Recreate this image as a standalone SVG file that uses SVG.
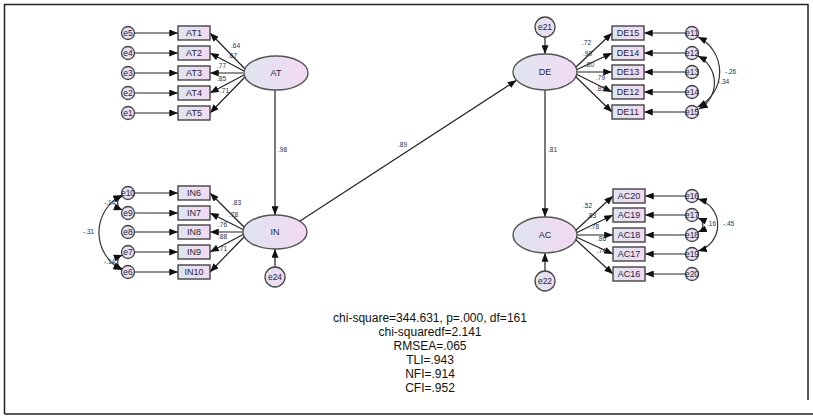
<svg xmlns="http://www.w3.org/2000/svg" width="813" height="416" viewBox="0 0 813 416">
<defs>
<linearGradient id="g" x1="0" y1="0" x2="1" y2="0">
<stop offset="0" stop-color="#dfe5ef"/>
<stop offset="1" stop-color="#f2d9f2"/>
</linearGradient>
<marker id="ah" viewBox="0 0 10 8" refX="10" refY="4" markerWidth="9" markerHeight="7" orient="auto-start-reverse" markerUnits="userSpaceOnUse">
<path d="M0,0 L10,4 L0,8 z" fill="#111"/>
</marker>
</defs>
<style>
.box{fill:url(#g);stroke:#444;stroke-width:1.4}
.lat{fill:url(#g);stroke:#555;stroke-width:1.4}
.err{fill:url(#g);stroke:#444;stroke-width:1.3}
.t{font-family:"Liberation Sans",Arial,sans-serif;font-size:9px;fill:#1c2640;text-anchor:middle;dominant-baseline:central}
.te{font-family:"Liberation Sans",Arial,sans-serif;font-size:8.5px;fill:#1c2640;text-anchor:middle;dominant-baseline:central}
.lb{font-family:"Liberation Sans",Arial,sans-serif;font-size:6.5px;fill:#22304f}
.ln{stroke:#222;stroke-width:1.2;fill:none;marker-end:url(#ah)}
.cv{stroke:#333;stroke-width:1.2;fill:none;marker-end:url(#ah);marker-start:url(#ah)}
.fit{font-family:"Liberation Sans",Arial,sans-serif;font-size:12px;fill:#111;text-anchor:middle}
.frame{stroke:#222;stroke-width:1.5;fill:none}
</style>
<g id="frame">
<path class="frame" d="M4.5,414 L4.5,4.5 L808,4.5 L808,400"/>
<path class="frame" d="M4.5,414 L813,414"/>
</g>
<g id="connectors">
<!-- AT errors -->
<line class="ln" x1="134.5" y1="33" x2="178" y2="33"/>
<line class="ln" x1="134.5" y1="53" x2="178" y2="53"/>
<line class="ln" x1="134.5" y1="73" x2="178" y2="73"/>
<line class="ln" x1="134.5" y1="93" x2="178" y2="93"/>
<line class="ln" x1="134.5" y1="113" x2="178" y2="113"/>
<!-- AT loadings -->
<line class="ln" x1="245" y1="69" x2="210" y2="33"/>
<line class="ln" x1="244" y1="71" x2="210" y2="53"/>
<line class="ln" x1="243" y1="73" x2="210" y2="73"/>
<line class="ln" x1="244" y1="75" x2="210" y2="93"/>
<line class="ln" x1="245" y1="77" x2="210" y2="113"/>
<!-- IN errors -->
<line class="ln" x1="134.5" y1="193" x2="178" y2="193"/>
<line class="ln" x1="134.5" y1="213" x2="178" y2="213"/>
<line class="ln" x1="134.5" y1="232" x2="178" y2="232"/>
<line class="ln" x1="134.5" y1="252" x2="178" y2="252"/>
<line class="ln" x1="134.5" y1="272" x2="178" y2="272"/>
<!-- IN loadings -->
<line class="ln" x1="245" y1="228" x2="210" y2="193"/>
<line class="ln" x1="244" y1="230" x2="210" y2="213"/>
<line class="ln" x1="243" y1="232" x2="210" y2="232"/>
<line class="ln" x1="244" y1="234" x2="210" y2="252"/>
<line class="ln" x1="245" y1="236" x2="210" y2="272"/>
<!-- DE errors -->
<line class="ln" x1="685.5" y1="33" x2="644" y2="33"/>
<line class="ln" x1="685.5" y1="53" x2="644" y2="53"/>
<line class="ln" x1="685.5" y1="72" x2="644" y2="72"/>
<line class="ln" x1="685.5" y1="92" x2="644" y2="92"/>
<line class="ln" x1="685.5" y1="112" x2="644" y2="112"/>
<!-- DE loadings -->
<line class="ln" x1="575" y1="68" x2="612" y2="33"/>
<line class="ln" x1="576" y1="70" x2="612" y2="53"/>
<line class="ln" x1="577" y1="72" x2="612" y2="72"/>
<line class="ln" x1="576" y1="74" x2="612" y2="92"/>
<line class="ln" x1="575" y1="76" x2="612" y2="112"/>
<!-- AC errors -->
<line class="ln" x1="685.5" y1="196" x2="645" y2="196"/>
<line class="ln" x1="685.5" y1="215" x2="645" y2="215"/>
<line class="ln" x1="685.5" y1="235" x2="645" y2="235"/>
<line class="ln" x1="685.5" y1="254" x2="645" y2="254"/>
<line class="ln" x1="685.5" y1="274" x2="645" y2="274"/>
<!-- AC loadings -->
<line class="ln" x1="575" y1="231" x2="613" y2="196"/>
<line class="ln" x1="576" y1="233" x2="613" y2="215"/>
<line class="ln" x1="577" y1="235" x2="613" y2="235"/>
<line class="ln" x1="576" y1="237" x2="613" y2="254"/>
<line class="ln" x1="575" y1="239" x2="613" y2="274"/>
<!-- structural -->
<line class="ln" x1="275" y1="90" x2="275" y2="215"/>
<line class="ln" x1="300" y1="221" x2="516.5" y2="80.3"/>
<line class="ln" x1="545" y1="90" x2="545" y2="217"/>
<!-- disturbances -->
<line class="ln" x1="545" y1="37" x2="545" y2="54"/>
<line class="ln" x1="545" y1="271" x2="545" y2="253"/>
<line class="ln" x1="275" y1="267" x2="275" y2="249"/>
<!-- covariances -->
<path class="cv" d="M122.5,196 A7.5,7.5 0 0 0 122.5,210"/>
<path class="cv" d="M122.5,255 A7.5,7.5 0 0 0 122.5,269"/>
<path class="cv" d="M122,195 A42,42 0 0 0 122,270"/>
<path class="cv" d="M698,37 A38.9,38.9 0 0 1 697.5,107"/>
<path class="cv" d="M698,56 A30,30 0 0 1 699,109"/>
<path class="cv" d="M698,199 A27,27 0 0 1 698,251"/>
<path class="cv" d="M698,218 A7.5,7.5 0 0 1 698,232"/>
</g>
<g id="labels">
<text class="lb" x="231" y="47.5">.64</text>
<text class="lb" x="228" y="58">.67</text>
<text class="lb" x="217" y="68">.77</text>
<text class="lb" x="217" y="80.5">.85</text>
<text class="lb" x="220" y="93">.71</text>
<text class="lb" x="232" y="205">.83</text>
<text class="lb" x="229" y="216.5">.78</text>
<text class="lb" x="218" y="227">.76</text>
<text class="lb" x="218" y="239">.88</text>
<text class="lb" x="218" y="251">.71</text>
<text class="lb" x="582" y="45">.72</text>
<text class="lb" x="583" y="56">.90</text>
<text class="lb" x="585" y="67">.80</text>
<text class="lb" x="596" y="80">.79</text>
<text class="lb" x="596" y="91">.83</text>
<text class="lb" x="583" y="208">.52</text>
<text class="lb" x="587" y="218">.83</text>
<text class="lb" x="590" y="229">.78</text>
<text class="lb" x="597" y="241">.86</text>
<text class="lb" x="597" y="253">.74</text>
<text class="lb" x="278" y="152">.98</text>
<text class="lb" x="398" y="147">.89</text>
<text class="lb" x="548" y="152">.81</text>
<text class="lb" x="83" y="234">-.31</text>
<text class="lb" x="104" y="205">-.14</text>
<text class="lb" x="104" y="264">-.14</text>
<text class="lb" x="725" y="74">-.26</text>
<text class="lb" x="718" y="84">-.34</text>
<text class="lb" x="707" y="226">.16</text>
<text class="lb" x="723" y="226">-.45</text>
</g>
<g id="AT"><ellipse class="lat" cx="276" cy="73" rx="32" ry="17"/><text class="t" x="276" y="73">AT</text></g>
<g id="IN"><ellipse class="lat" cx="275" cy="232" rx="32" ry="17"/><text class="t" x="275" y="232">IN</text></g>
<g id="DE"><ellipse class="lat" cx="545" cy="72" rx="32" ry="18"/><text class="t" x="545" y="72">DE</text></g>
<g id="AC"><ellipse class="lat" cx="545" cy="235" rx="32" ry="18"/><text class="t" x="545" y="235">AC</text></g>
<g id="AT1"><rect class="box" x="178" y="26" width="32" height="14"/><text class="t" x="194" y="33">AT1</text></g>
<g id="AT2"><rect class="box" x="178" y="46" width="32" height="14"/><text class="t" x="194" y="53">AT2</text></g>
<g id="AT3"><rect class="box" x="178" y="66" width="32" height="14"/><text class="t" x="194" y="73">AT3</text></g>
<g id="AT4"><rect class="box" x="178" y="86" width="32" height="14"/><text class="t" x="194" y="93">AT4</text></g>
<g id="AT5"><rect class="box" x="178" y="106" width="32" height="14"/><text class="t" x="194" y="113">AT5</text></g>
<g id="IN6"><rect class="box" x="178" y="186" width="32" height="14"/><text class="t" x="194" y="193">IN6</text></g>
<g id="IN7"><rect class="box" x="178" y="206" width="32" height="14"/><text class="t" x="194" y="213">IN7</text></g>
<g id="IN8"><rect class="box" x="178" y="225" width="32" height="14"/><text class="t" x="194" y="232">IN8</text></g>
<g id="IN9"><rect class="box" x="178" y="245" width="32" height="14"/><text class="t" x="194" y="252">IN9</text></g>
<g id="IN10"><rect class="box" x="178" y="265" width="32" height="14"/><text class="t" x="194" y="272">IN10</text></g>
<g id="DE15"><rect class="box" x="612" y="26" width="32" height="14"/><text class="t" x="628" y="33">DE15</text></g>
<g id="DE14"><rect class="box" x="612" y="46" width="32" height="14"/><text class="t" x="628" y="53">DE14</text></g>
<g id="DE13"><rect class="box" x="612" y="65" width="32" height="14"/><text class="t" x="628" y="72">DE13</text></g>
<g id="DE12"><rect class="box" x="612" y="85" width="32" height="14"/><text class="t" x="628" y="92">DE12</text></g>
<g id="DE11"><rect class="box" x="612" y="105" width="32" height="14"/><text class="t" x="628" y="112">DE11</text></g>
<g id="AC20"><rect class="box" x="613" y="189" width="32" height="14"/><text class="t" x="629" y="196">AC20</text></g>
<g id="AC19"><rect class="box" x="613" y="208" width="32" height="14"/><text class="t" x="629" y="215">AC19</text></g>
<g id="AC18"><rect class="box" x="613" y="228" width="32" height="14"/><text class="t" x="629" y="235">AC18</text></g>
<g id="AC17"><rect class="box" x="613" y="247" width="32" height="14"/><text class="t" x="629" y="254">AC17</text></g>
<g id="AC16"><rect class="box" x="613" y="267" width="32" height="14"/><text class="t" x="629" y="274">AC16</text></g>
<g id="e5"><circle class="err" cx="128" cy="33" r="6.5"/><text class="te" x="128" y="33">e5</text></g>
<g id="e4"><circle class="err" cx="128" cy="53" r="6.5"/><text class="te" x="128" y="53">e4</text></g>
<g id="e3"><circle class="err" cx="128" cy="73" r="6.5"/><text class="te" x="128" y="73">e3</text></g>
<g id="e2"><circle class="err" cx="128" cy="93" r="6.5"/><text class="te" x="128" y="93">e2</text></g>
<g id="e1"><circle class="err" cx="128" cy="113" r="6.5"/><text class="te" x="128" y="113">e1</text></g>
<g id="e10"><circle class="err" cx="128" cy="193" r="6.5"/><text class="te" x="128" y="193">e10</text></g>
<g id="e9"><circle class="err" cx="128" cy="213" r="6.5"/><text class="te" x="128" y="213">e9</text></g>
<g id="e8"><circle class="err" cx="128" cy="232" r="6.5"/><text class="te" x="128" y="232">e8</text></g>
<g id="e7"><circle class="err" cx="128" cy="252" r="6.5"/><text class="te" x="128" y="252">e7</text></g>
<g id="e6"><circle class="err" cx="128" cy="272" r="6.5"/><text class="te" x="128" y="272">e6</text></g>
<g id="e11"><circle class="err" cx="692" cy="33" r="6.5"/><text class="te" x="692" y="33">e11</text></g>
<g id="e12"><circle class="err" cx="692" cy="53" r="6.5"/><text class="te" x="692" y="53">e12</text></g>
<g id="e13"><circle class="err" cx="692" cy="72" r="6.5"/><text class="te" x="692" y="72">e13</text></g>
<g id="e14"><circle class="err" cx="692" cy="92" r="6.5"/><text class="te" x="692" y="92">e14</text></g>
<g id="e15"><circle class="err" cx="692" cy="112" r="6.5"/><text class="te" x="692" y="112">e15</text></g>
<g id="e16"><circle class="err" cx="692" cy="196" r="6.5"/><text class="te" x="692" y="196">e16</text></g>
<g id="e17"><circle class="err" cx="692" cy="215" r="6.5"/><text class="te" x="692" y="215">e17</text></g>
<g id="e18"><circle class="err" cx="692" cy="235" r="6.5"/><text class="te" x="692" y="235">e18</text></g>
<g id="e19"><circle class="err" cx="692" cy="254" r="6.5"/><text class="te" x="692" y="254">e19</text></g>
<g id="e20"><circle class="err" cx="692" cy="274" r="6.5"/><text class="te" x="692" y="274">e20</text></g>
<g id="e21"><circle class="err" cx="545" cy="27" r="10"/><text class="te" x="545" y="27">e21</text></g>
<g id="e22"><circle class="err" cx="545" cy="281" r="10"/><text class="te" x="545" y="281">e22</text></g>
<g id="e24"><circle class="err" cx="275" cy="277" r="10"/><text class="te" x="275" y="277">e24</text></g>
<g id="fit">
<text class="fit" x="430" y="322">chi-square=344.631, p=.000, df=161</text>
<text class="fit" x="430" y="336">chi-squaredf=2.141</text>
<text class="fit" x="430" y="350">RMSEA=.065</text>
<text class="fit" x="430" y="364">TLI=.943</text>
<text class="fit" x="430" y="378">NFI=.914</text>
<text class="fit" x="430" y="392">CFI=.952</text>
</g>
</svg>
